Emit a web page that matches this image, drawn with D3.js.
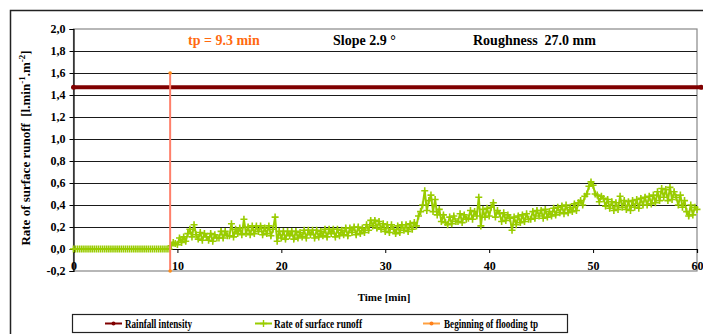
<!DOCTYPE html>
<html><head><meta charset="utf-8">
<script src="https://cdn.jsdelivr.net/npm/d3@7"></script>
<style>
html,body{margin:0;padding:0;background:#fff;}
svg{display:block;}
text{font-family:"Liberation Serif","Times New Roman",serif;font-weight:bold;}
</style></head>
<body>
<svg id="chart" width="703" height="334"></svg>
<script>
// ---- data ----
const xTicks = [0,10,20,30,40,50,60];
const yTicks = [-0.2,0,0.2,0.4,0.6,0.8,1.0,1.2,1.4,1.6,1.8,2.0];
const yTickLabels = ["-0,2","0,0","0,2","0,4","0,6","0,8","1,0","1,2","1,4","1,6","1,8","2,0"];
const rainTimes = [0, 60.4];
const rainValues = [1.47, 1.47];
const tpTime = 9.3;
const tpValues = [-0.2, 1.6];
const timeStep = 0.2; // minutes between runoff samples
const runoffValues = [
  // 0 - 9.2 min (47 samples)
  0,0,0,0,0, 0,0,0,0,0, 0,0,0,0,0, 0,0,0,0,0, 0,0,0,0,0,
  0,0,0,0,0, 0,0,0,0,0, 0,0,0,0,0, 0,0,0,0,0, 0,0,
  // 9.4 - 9.8
  0.03,0.06,0.05,
  0.04,0.10,0.06,0.11,0.07, // 10
  0.14,0.18,0.11,0.22,0.13, // 11
  0.09,0.15,0.08,0.14,0.11, // 12
  0.08,0.14,0.07,0.13,0.10, // 13
  0.10,0.16,0.10,0.16,0.12, // 14
  0.12,0.23,0.11,0.18,0.14, // 15
  0.19,0.13,0.27,0.14,0.20, // 16
  0.13,0.21,0.14,0.21,0.16, // 17
  0.21,0.13,0.19,0.14,0.21, // 18
  0.12,0.18,0.29,0.07,0.16, // 19
  0.10,0.16,0.09,0.16,0.12, // 20
  0.16,0.09,0.16,0.10,0.15, // 21
  0.11,0.17,0.10,0.17,0.13, // 22
  0.17,0.10,0.17,0.11,0.16, // 23
  0.12,0.18,0.11,0.18,0.14, // 24
  0.18,0.11,0.18,0.12,0.17, // 25
  0.13,0.19,0.12,0.19,0.15, // 26
  0.20,0.13,0.20,0.14,0.19, // 27
  0.15,0.22,0.17,0.26,0.21, // 28
  0.26,0.19,0.25,0.18,0.23, // 29
  0.16,0.22,0.15,0.22,0.18, // 30
  0.14,0.21,0.15,0.22,0.17, // 31
  0.22,0.16,0.23,0.18,0.24, // 32
  0.21,0.30,0.34,0.40,0.53, // 33
  0.35,0.44,0.49,0.34,0.45, // 34
  0.31,0.36,0.25,0.31,0.24, // 35
  0.22,0.29,0.23,0.30,0.25, // 36
  0.25,0.32,0.24,0.31,0.27, // 37
  0.28,0.35,0.27,0.34,0.30, // 38
  0.47,0.21,0.36,0.29,0.37, // 39
  0.30,0.38,0.42,0.29,0.35, // 40
  0.32,0.25,0.33,0.26,0.31, // 41
  0.28,0.17,0.29,0.22,0.30, // 42
  0.24,0.31,0.25,0.32,0.27, // 43
  0.27,0.34,0.28,0.35,0.30, // 44
  0.35,0.28,0.36,0.29,0.34, // 45
  0.30,0.37,0.31,0.38,0.33, // 46
  0.39,0.32,0.40,0.33,0.38, // 47
  0.34,0.41,0.35,0.42,0.44, // 48
  0.40,0.48,0.50,0.57,0.61, // 49
  0.58,0.50,0.49,0.43,0.48, // 50
  0.46,0.39,0.45,0.37,0.43, // 51
  0.35,0.42,0.36,0.48,0.38, // 52
  0.44,0.36,0.43,0.35,0.44, // 53
  0.38,0.45,0.37,0.46,0.40, // 54
  0.47,0.40,0.48,0.41,0.49, // 55
  0.42,0.52,0.44,0.55,0.47, // 56
  0.54,0.44,0.56,0.45,0.52, // 57
  0.47,0.40,0.49,0.38,0.44, // 58
  0.34,0.30,0.40,0.31,0.38, // 59
  0.36                      // 60
];
const legendLabels = ["Rainfall intensity","Rate of surface runoff","Beginning of flooding tp"];
const annotations = ["tp = 9.3 min","Slope 2.9 °","Roughness  27.0 mm"];

// ---- drawing ----
const FONT = "'Liberation Serif','Times New Roman',serif";
const svg = d3.select("#chart");
const plotL = 73.5, plotR = 697, plotT = 29, plotB = 271;
const x = d3.scaleLinear().domain([0,60]).range([plotL, plotR]);
const y = d3.scaleLinear().domain([-0.2,2.0]).range([plotB, plotT]);

// outer frame
svg.append("rect").attr("x",10.5).attr("y",10.5).attr("width",720).attr("height",360)
  .attr("fill","none").attr("stroke","#222").attr("stroke-width",1.5);

// plot border
svg.append("rect").attr("x",plotL).attr("y",plotT).attr("width",plotR-plotL).attr("height",plotB-plotT)
  .attr("fill","none").attr("stroke","#888").attr("stroke-width",1.2);

// gridlines
svg.append("g").selectAll("line").data(yTicks.filter(v=>v>-0.2 && v<2.0)).join("line")
  .attr("x1",plotL).attr("x2",plotR)
  .attr("y1",d=>Math.round(y(d))+0.5).attr("y2",d=>Math.round(y(d))+0.5)
  .attr("stroke","#1a1a1a").attr("stroke-width",1);

// y axis
const yAxis = svg.append("g").attr("transform",`translate(${plotL},0)`)
  .call(d3.axisLeft(y).tickValues(yTicks).tickSize(4).tickPadding(4)
        .tickFormat((d,i)=>yTickLabels[i]));
yAxis.attr("font-family",FONT);
yAxis.select(".domain").attr("stroke","#000").attr("stroke-width",1.2);
yAxis.selectAll(".tick line").attr("stroke","#000");
yAxis.selectAll(".tick text").attr("font-size",12).attr("fill","#000")
  .style("font-family",FONT).style("font-weight","bold");

// x axis at y = 0
const xAxis = svg.append("g").attr("transform",`translate(0,${y(0)})`)
  .call(d3.axisBottom(x).tickValues(xTicks).tickSize(4).tickFormat(d=>d));
xAxis.attr("font-family",FONT);
xAxis.select(".domain").attr("stroke","#000").attr("stroke-width",1.2);
xAxis.selectAll(".tick line").attr("stroke","#000");
xAxis.selectAll(".tick text").attr("font-size",12).attr("fill","#000")
  .style("font-family",FONT).style("font-weight","bold")
  .attr("dy",null).attr("y", plotB - y(0) - 1);

// rainfall intensity line
const rain = rainTimes.map((t,i)=>[t,rainValues[i]]);
svg.append("path").datum(rain)
  .attr("d",d3.line().x(d=>x(d[0])).y(d=>y(d[1])))
  .attr("stroke","#800000").attr("stroke-width",4).attr("fill","none");
svg.append("g").selectAll("circle").data(rain).join("circle")
  .attr("cx",d=>x(d[0])).attr("cy",d=>y(d[1])).attr("r",2.5).attr("fill","#800000");

// runoff series
const runoff = runoffValues.map((v,i)=>[i*timeStep, v]);
svg.append("path").datum(runoff)
  .attr("d",d3.line().x(d=>x(d[0])).y(d=>y(d[1])))
  .attr("stroke","#99cc00").attr("stroke-width",2).attr("fill","none");
svg.append("g").selectAll("path").data(runoff).join("path")
  .attr("transform",d=>`translate(${x(d[0])},${y(d[1])})`)
  .attr("d","M-3.5,0H3.5M0,-3.5V3.5")
  .attr("stroke","#99cc00").attr("stroke-width",1.6).attr("fill","none");

// beginning of flooding line
svg.append("line")
  .attr("x1",x(tpTime)).attr("x2",x(tpTime))
  .attr("y1",y(tpValues[0])).attr("y2",y(tpValues[1]))
  .attr("stroke","#ff7f6a").attr("stroke-width",2);
svg.append("g").selectAll("circle").data(tpValues).join("circle")
  .attr("cx",x(tpTime)).attr("cy",d=>y(d)).attr("r",1.8).attr("fill","#ff8c1a");

// annotations
svg.append("text").attr("x",188).attr("y",45).attr("font-size",14).attr("fill","#ff6a10")
  .style("font-family",FONT).text(annotations[0]);
svg.append("text").attr("x",333).attr("y",45).attr("font-size",14).attr("fill","#000")
  .style("font-family",FONT).text(annotations[1]);
svg.append("text").attr("x",473).attr("y",45).attr("font-size",14).attr("fill","#000")
  .style("font-family",FONT).style("white-space","pre")
  .text(annotations[2]);

// axis titles
svg.append("text").attr("x",384).attr("y",301).attr("text-anchor","middle").attr("font-size",11)
  .style("font-family",FONT).text("Time [min]");
const yt = svg.append("text").attr("transform","translate(30,148) rotate(-90)")
  .attr("text-anchor","middle").attr("font-size",13).style("white-space","pre").style("font-family",FONT);
yt.append("tspan").text("Rate of surface runoff  [l.min");
yt.append("tspan").attr("dy",-5).attr("font-size",9).text("-1");
yt.append("tspan").attr("dy",5).text(".m");
yt.append("tspan").attr("dy",-5).attr("font-size",9).text("-2");
yt.append("tspan").attr("dy",5).text("]");

// legend
svg.append("rect").attr("x",72.5).attr("y",314.5).attr("width",495).attr("height",18)
  .attr("fill","#fff").attr("stroke","#222").attr("stroke-width",1.2);
const legendItems = [
  {x0:105, tx:125, w:67, color:"#800000", marker:"dot"},
  {x0:255, tx:274, w:88, color:"#99cc00", marker:"plus"},
  {x0:423, tx:444, w:94, color:"#ffa040", marker:"dot"}
];
const lg = svg.append("g");
legendItems.forEach((it,i)=>{
  lg.append("line").attr("x1",it.x0).attr("x2",it.x0+17).attr("y1",323.5).attr("y2",323.5)
    .attr("stroke",it.color).attr("stroke-width",2);
  if(it.marker==="dot"){
    lg.append("circle").attr("cx",it.x0+8.5).attr("cy",323.5).attr("r",2).attr("fill",it.color==="#ffa040"?"#ff7f1a":it.color);
  } else {
    lg.append("path").attr("transform",`translate(${it.x0+8.5},323.5)`).attr("d","M-3.5,0H3.5M0,-3.5V3.5")
      .attr("stroke",it.color).attr("stroke-width",1.4);
  }
  lg.append("text").attr("x",it.tx).attr("y",328).attr("font-size",12.5)
    .style("font-family",FONT)
    .attr("textLength",it.w).attr("lengthAdjust","spacingAndGlyphs").text(legendLabels[i]);
});
</script>
</body></html>
